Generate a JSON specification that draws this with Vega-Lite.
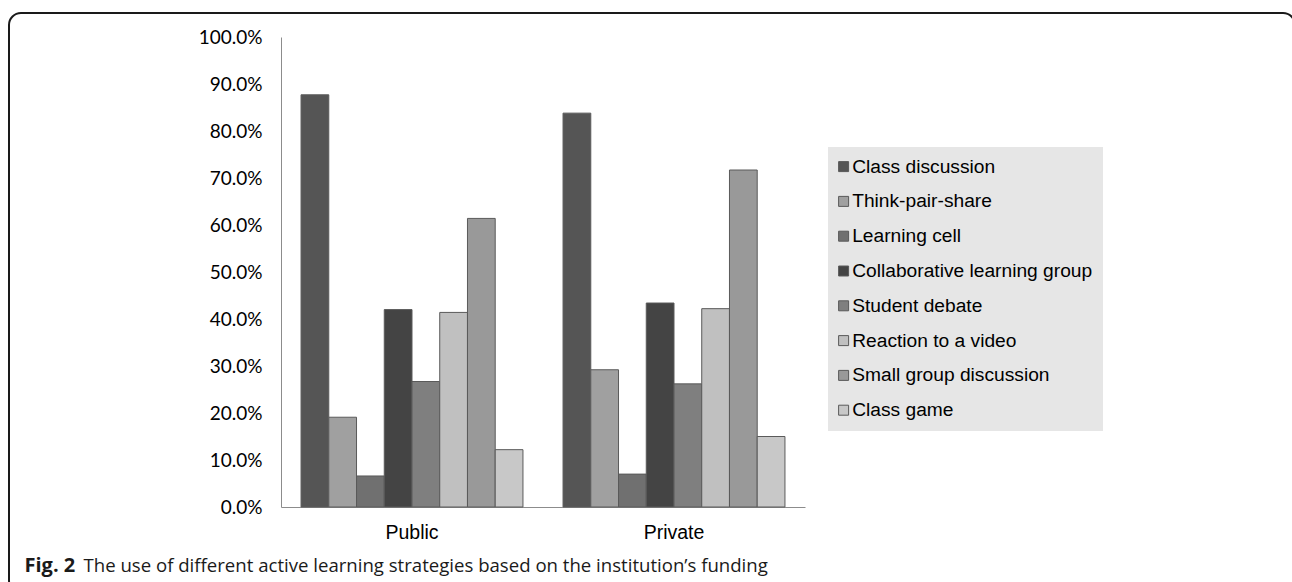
{
  "$schema": "https://vega.github.io/schema/vega-lite/v6.json",
  "autosize": {"type": "none"},
  "width": 1286,
  "height": 580,
  "padding": {"left": 9, "top": 13, "right": 0, "bottom": 0},
  "background": "white",
  "config": {
    "view": {"stroke": "#1a1a1a", "strokeWidth": 2, "cornerRadius": 12}
  },
  "data": {
    "values": [
      {"funding": "Public", "strategy": "Class discussion", "pct": 0.877},
      {"funding": "Public", "strategy": "Think-pair-share", "pct": 0.191},
      {"funding": "Public", "strategy": "Learning cell", "pct": 0.066},
      {"funding": "Public", "strategy": "Collaborative learning group", "pct": 0.420},
      {"funding": "Public", "strategy": "Student debate", "pct": 0.267},
      {"funding": "Public", "strategy": "Reaction to a video", "pct": 0.414},
      {"funding": "Public", "strategy": "Small group discussion", "pct": 0.614},
      {"funding": "Public", "strategy": "Class game", "pct": 0.122},
      {"funding": "Private", "strategy": "Class discussion", "pct": 0.838},
      {"funding": "Private", "strategy": "Think-pair-share", "pct": 0.292},
      {"funding": "Private", "strategy": "Learning cell", "pct": 0.070},
      {"funding": "Private", "strategy": "Collaborative learning group", "pct": 0.434},
      {"funding": "Private", "strategy": "Student debate", "pct": 0.262},
      {"funding": "Private", "strategy": "Reaction to a video", "pct": 0.422},
      {"funding": "Private", "strategy": "Small group discussion", "pct": 0.717},
      {"funding": "Private", "strategy": "Class game", "pct": 0.150}
    ]
  },
  "mark": {"type": "bar", "stroke": "#5a5a5a", "strokeWidth": 1},
  "encoding": {
    "x": {
      "field": "funding",
      "type": "nominal",
      "sort": ["Public", "Private"],
      "scale": {"range": [272, 796], "paddingInner": 0.153, "paddingOuter": 0.0765},
      "axis": {
        "offset": -86,
        "domainColor": "#8c8c8c",
        "domainWidth": 1,
        "ticks": false,
        "labelAngle": 0,
        "labelFont": "Liberation Sans",
        "labelFontSize": 19.5,
        "labelColor": "#000000",
        "labelPadding": 16,
        "title": "The use of different active learning strategies based on the institution\u2019s funding",
        "titleFont": "Open Sans",
        "titleFontSize": 18.6,
        "titleFontWeight": "normal",
        "titleColor": "#1a1a1a",
        "titleAlign": "left",
        "titleBaseline": "alphabetic",
        "titleAngle": 0,
        "titleX": 74,
        "titleY": 64
      }
    },
    "xOffset": {
      "field": "strategy",
      "type": "nominal",
      "sort": ["Class discussion", "Think-pair-share", "Learning cell", "Collaborative learning group", "Student debate", "Reaction to a video", "Small group discussion", "Class game"],
      "scale": {"paddingInner": 0, "paddingOuter": 0}
    },
    "y": {
      "field": "pct",
      "type": "quantitative",
      "scale": {"domain": [0, 1], "range": [494, 24], "nice": false, "zero": true},
      "axis": {
        "offset": -272,
        "values": [0, 0.1, 0.2, 0.3, 0.4, 0.5, 0.6, 0.7, 0.8, 0.9, 1.0],
        "format": ".1%",
        "grid": false,
        "ticks": false,
        "domainColor": "#8c8c8c",
        "domainWidth": 1,
        "labelFont": "Lato",
        "labelFontSize": 19,
        "labelColor": "#000000",
        "labelPadding": 19,
        "title": "Fig. 2",
        "titleFont": "Open Sans",
        "titleFontSize": 20,
        "titleFontWeight": "bold",
        "titleColor": "#1a1a1a",
        "titleAngle": 0,
        "titleAlign": "left",
        "titleBaseline": "alphabetic",
        "titleX": -257,
        "titleY": 558
      }
    },
    "color": {
      "field": "strategy",
      "type": "nominal",
      "sort": ["Class discussion", "Think-pair-share", "Learning cell", "Collaborative learning group", "Student debate", "Reaction to a video", "Small group discussion", "Class game"],
      "scale": {
        "domain": ["Class discussion", "Think-pair-share", "Learning cell", "Collaborative learning group", "Student debate", "Reaction to a video", "Small group discussion", "Class game"],
        "range": ["#555555", "#a0a0a0", "#707070", "#444444", "#7f7f7f", "#c0c0c0", "#999999", "#c8c8c8"]
      },
      "legend": {
        "orient": "none",
        "legendX": 819,
        "legendY": 134,
        "title": null,
        "fillColor": "#e6e6e6",
        "padding": 10,
        "symbolType": "square",
        "symbolSize": 100,
        "symbolOffset": -4,
        "symbolStrokeColor": "#5a5a5a",
        "symbolStrokeWidth": 1,
        "symbolOpacity": 1,
        "labelFont": "Liberation Sans",
        "labelFontSize": 19.2,
        "labelColor": "#000000",
        "labelOffset": -1,
        "labelLimit": 400,
        "rowPadding": 14.8
      }
    }
  }
}
